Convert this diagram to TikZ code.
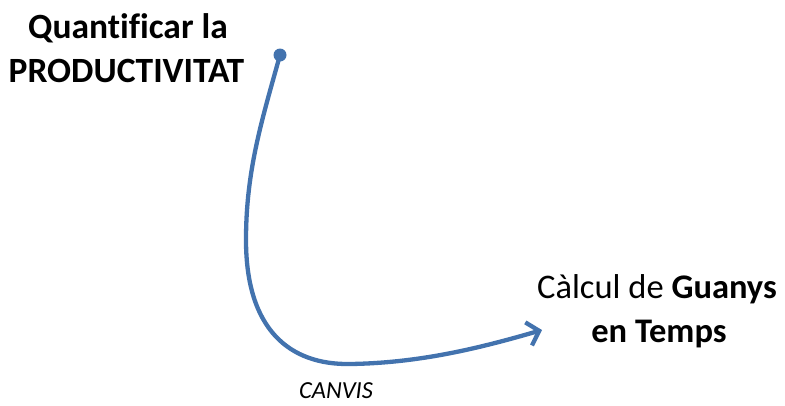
\documentclass[tikz,border=0pt]{standalone}
\usepackage{fontspec}
\setmainfont[Ligatures={NoCommon}]{Carlito}
\usetikzlibrary{arrows.meta}
\definecolor{curveblue}{HTML}{4373AE}
\begin{document}
\begin{tikzpicture}[x=1pt,y=-1pt,
  bigtxt/.style={anchor=base,inner sep=0pt,font=\fontsize{35.5}{42}\selectfont},
  righttxt/.style={anchor=base,inner sep=0pt,font=\fontsize{34.5}{42}\selectfont},
  smalltxt/.style={anchor=base,inner sep=0pt,font=\fontsize{24.5}{29}\selectfont\itshape},
  flow/.style={draw=curveblue,line width=4.3pt,line cap=round,
    -{Straight Barb[length=11pt,width=24pt,line width=4.3pt]}}]
\useasboundingbox (0,0) rectangle (785,405);
\node[bigtxt] (q1) at (128,38) {\bfseries Quantificar la};
\node[bigtxt] (q2) at (126.5,82) {\bfseries PRODUCTIVITAT};
\node[righttxt] (c1) at (657,298) {Càlcul de \textbf{Guanys}};
\node[righttxt] (c2) at (659,342) {\bfseries en Temps};
\node[smalltxt] (cv) at (336,398) {CANVIS};
\node[circle,fill=curveblue,inner sep=0pt,minimum size=13pt] (start) at (280,55) {};
\coordinate (end) at (542,330);
\draw[flow] (start.center) .. controls (262,120) and (246,170) .. (246,240)
  .. controls (246,330) and (290,365) .. (350,364)
  .. controls (420,363) and (480,348) .. (end);
\end{tikzpicture}
\end{document}
